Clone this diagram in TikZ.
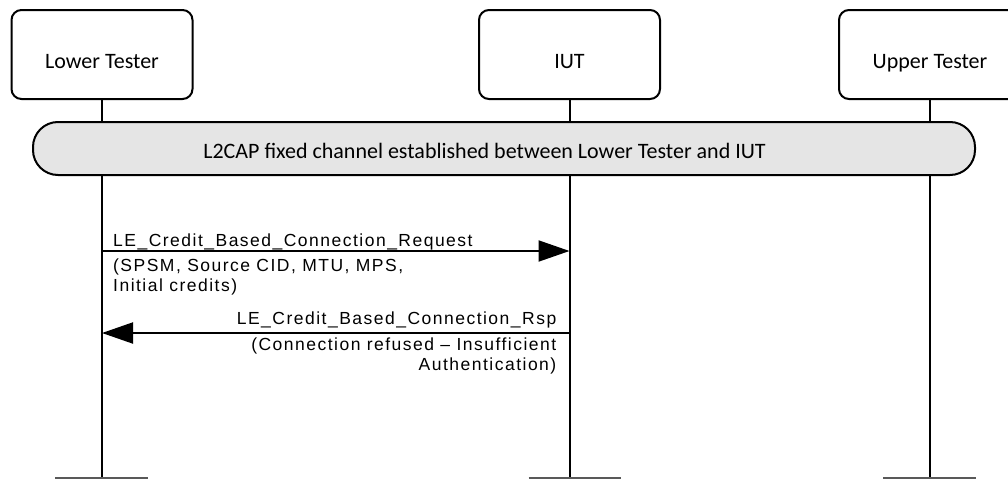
\documentclass[tikz,border=0pt]{standalone}
\usepackage{fontspec}
\usepackage{tikz}
\usetikzlibrary{arrows.meta,positioning}
\newfontfamily\entityfont{Carlito}
\newfontfamily\msgfont{Liberation Sans}[LetterSpace=8.5]

\begin{document}
\begin{tikzpicture}[
  x=1pt, y=-1pt,
  entity/.style = {rectangle, rounded corners=10pt, draw=black, line width=2pt,
                   fill=white, minimum width=181pt, minimum height=89pt,
                   text height=27pt, text depth=0pt,
                   font=\entityfont\fontsize{22}{26}\selectfont},
  banner/.style = {rectangle, rounded corners=25pt, draw=black, line width=2pt,
                   fill=black!10, minimum width=942pt, minimum height=53pt},
  life/.style   = {line width=2pt, black},
  foot/.style   = {line width=2pt, black!65},
  msg/.style    = {line width=2pt, -{Triangle[length=31pt,width=21pt]}},
  msglabel/.style = {font=\msgfont\fontsize{17.5}{20}\selectfont, inner sep=0pt}
]
\useasboundingbox (0,0) rectangle (1008,479);
\clip (0,0) rectangle (1008,479);

%% --- entities ---
\node[entity] (lt)  at (102,54.5) {Lower Tester};
\node[entity] (iut) at (569.5,54.5) {IUT};
\node[entity, minimum width=182pt] (ut) at (930,54.5) {Upper Tester};

%% --- lifelines ---
\coordinate (bottom) at (0,478);
\draw[life] (lt.south)  -- (lt |- bottom);
\draw[life] (iut.south) -- (iut |- bottom);
\draw[life] (ut.south)  -- (ut |- bottom);
\draw[foot] ([xshift=-47pt]lt |- bottom)  -- ([xshift=46pt]lt |- bottom);
\draw[foot] ([xshift=-41pt]iut |- bottom) -- ([xshift=51pt]iut |- bottom);
\draw[foot] ([xshift=-47pt]ut |- bottom)  -- ([xshift=46pt]ut |- bottom);

%% --- fixed channel ---
\node[banner] (fixed) at (504,148.5) {};
\node[font=\entityfont\fontsize{22}{26}\selectfont, inner sep=0pt, anchor=base]
  (fixedlabel) at (484.5,158)
  {L2CAP fixed channel established between Lower Tester and IUT};

%% --- messages ---
\coordinate (m1) at (0,251);
\coordinate (m2) at (0,333);
\coordinate (req-a) at (lt |- m1);
\coordinate (req-b) at (iut |- m1);
\coordinate (rsp-a) at (iut |- m2);
\coordinate (rsp-b) at (lt |- m2);

\draw[msg] (req-a) -- (req-b);
\node[msglabel, anchor=base west] (reqname) at ([shift={(11,-5)}]req-a)
  {LE\_Credit\_Based\_Connection\_Request};
\node[msglabel, anchor=north west, align=left] (reqparams) at ([shift={(11,8)}]req-a)
  {(SPSM, Source CID, MTU, MPS,\\Initial credits)};

\draw[msg] (rsp-a) -- (rsp-b);
\node[msglabel, anchor=base east] (rspname) at ([shift={(-13,-9)}]rsp-a)
  {LE\_Credit\_Based\_Connection\_Rsp};
\node[msglabel, anchor=north east, align=right] (rspparams) at ([shift={(-13,5)}]rsp-a)
  {(Connection refused – Insufficient\\Authentication)};

\end{tikzpicture}
\end{document}
